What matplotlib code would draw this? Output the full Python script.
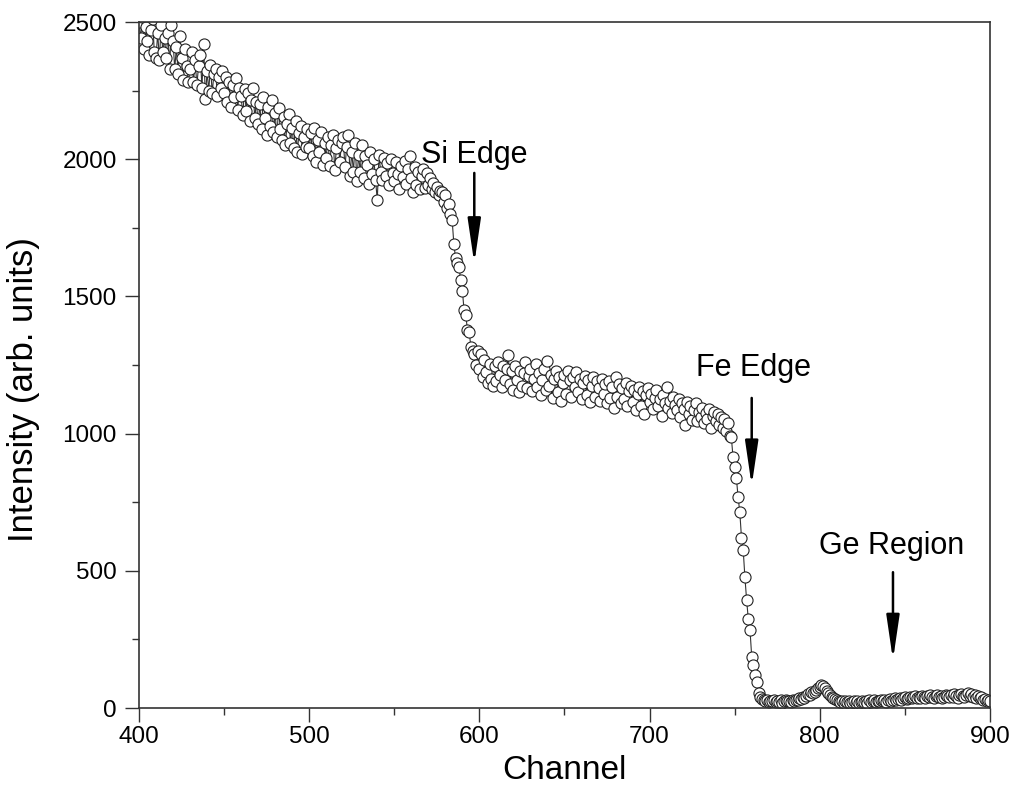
import numpy as np
import matplotlib
matplotlib.use("Agg")
import matplotlib.pyplot as plt

plt.rcParams['font.family'] = ['Liberation Sans', 'DejaVu Sans']

start_channel = 400
intensity = [
    # 400-579
    2500, 2440, 2520, 2400, 2480, 2430, 2380, 2470, 2510, 2390,
    2370, 2460, 2360, 2490, 2390, 2440, 2370, 2460, 2330, 2490,
    2430, 2330, 2410, 2310, 2450, 2370, 2290, 2400, 2340, 2280,
    2330, 2390, 2280, 2360, 2270, 2340, 2380, 2260, 2420, 2220,
    2320, 2250, 2345, 2240, 2310, 2330, 2230, 2300, 2260, 2320,
    2240, 2300, 2210, 2280, 2190, 2270, 2225, 2295, 2180, 2260,
    2230, 2160, 2255, 2175, 2240, 2140, 2215, 2260, 2150, 2210,
    2130, 2200, 2110, 2225, 2150, 2090, 2190, 2120, 2215, 2100,
    2170, 2080, 2185, 2110, 2070, 2155, 2050, 2130, 2165, 2060,
    2115, 2040, 2140, 2025, 2095, 2120, 2020, 2080, 2045, 2110,
    2040, 2095, 2010, 2115, 1990, 2070, 2025, 2100, 1980, 2060,
    2005, 2080, 1975, 2050, 2090, 1960, 2040, 2070, 1990, 2060,
    2080, 1970, 2045, 2090, 1940, 2025, 1955, 2060, 1920, 2015,
    1955, 2050, 1930, 2010, 1980, 1910, 2025, 1945, 2000, 1925,
    1850, 2015, 1955, 1925, 2005, 1940, 1985, 1905, 2000, 1950,
    1920, 1990, 1945, 1890, 1975, 1935, 1995, 1910, 1965, 2010,
    1930, 1880, 1970, 1905, 1955, 1890, 1940, 1965, 1895, 1950,
    1905, 1930, 1890, 1915, 1880, 1900, 1870, 1885, 1880, 1845,
    # 580-599 (Si edge)
    1870, 1822, 1835, 1800,
    1778, 1691, 1639, 1621, 1607, 1560, 1521, 1450, 1431, 1378, 1370, 1317, 1300,
    1290, 1250, 1300,
    # 600-739
    1235, 1290, 1205, 1270, 1225, 1185, 1255, 1200, 1175, 1245,
    1190, 1260, 1215, 1170, 1245, 1195, 1235, 1285, 1180, 1230,
    1160, 1245, 1195, 1150, 1230, 1175, 1220, 1260, 1165, 1210,
    1235, 1155, 1200, 1255, 1170, 1220, 1140, 1195, 1235, 1160,
    1265, 1175, 1215, 1130, 1200, 1230, 1150, 1205, 1120, 1185,
    1215, 1145, 1230, 1195, 1135, 1205, 1170, 1225, 1150, 1200,
    1125, 1185, 1210, 1140, 1195, 1115, 1175, 1205, 1135, 1190,
    1165, 1120, 1200, 1145, 1180, 1110, 1190, 1130, 1170, 1095,
    1205, 1135, 1180, 1110, 1165, 1125, 1185, 1100, 1155, 1175,
    1115, 1160, 1085, 1145, 1170, 1100, 1155, 1070, 1140, 1165,
    1115, 1145, 1090, 1130, 1160, 1100, 1125, 1065, 1140, 1110,
    1170, 1095, 1120, 1075, 1135, 1105, 1085, 1125, 1060, 1110,
    1090, 1030, 1115, 1070, 1100, 1050, 1085, 1110, 1045, 1080,
    1060, 1095, 1040, 1075, 1055, 1090, 1020, 1065, 1080, 1045,
    # 740-747
    1070, 1030, 1060, 1020, 1055, 1010, 1040, 990,
    # 748-765 (Fe edge)
    989, 916, 879, 838, 768, 714, 620, 576, 477, 394, 324, 284, 187, 157, 120, 96, 55, 40,
    # 766-900 (Ge region)
    32, 28, 25, 30, 22, 27, 24, 29, 21, 26,
    23, 28, 20, 25, 30, 24, 27, 22, 29, 26,
    31, 28, 35, 33, 40, 37, 45, 50, 48, 58,
    55, 60, 66, 72, 78, 84, 80, 72, 62, 55,
    48, 42, 36, 32, 28, 25, 22, 26, 20, 24,
    21, 25, 19, 23, 27, 20, 24, 18, 22, 26,
    21, 25, 20, 28, 23, 26, 30, 22, 27, 24,
    29, 25, 31, 23, 28, 33, 26, 30, 35, 28,
    32, 38, 30, 35, 40, 33, 37, 42, 35, 39,
    44, 36, 41, 38, 45, 40, 35, 43, 39, 46,
    41, 37, 44, 48, 40, 45, 38, 42, 47, 43,
    39, 46, 41, 50, 44, 38, 47, 52, 45, 41,
    48, 55, 44, 50, 42, 47, 38, 43, 35, 40,
    30, 34, 26, 29, 24,
]
channel = start_channel + np.arange(len(intensity))

labels = ["Si Edge", "Fe Edge", "Ge Region"]
label_x = [597, 761, 842]
label_y = [1985, 1210, 560]
arrow_x = [597, 760, 843]
arrow_top = [1950, 1130, 495]
arrow_tip = [1620, 810, 175]

fig = plt.figure(figsize=(10.16, 8.09), dpi=100)
ax = fig.add_axes([0.1368, 0.1248, 0.9744 - 0.1368, 0.9728 - 0.1248])

ax.plot(channel, intensity, color='#333333', lw=0.8, marker='o', ms=8,
        mfc='white', mec='#222222', mew=0.8)

ax.set_xlim(400, 900)
ax.set_ylim(0, 2500)
ax.set_xticks([400, 500, 600, 700, 800, 900])
ax.set_xticks([450, 550, 650, 750, 850], minor=True)
ax.set_yticks([0, 500, 1000, 1500, 2000, 2500])
ax.set_yticks([250, 750, 1250, 1750, 2250], minor=True)
ax.tick_params(axis='both', which='major', direction='out', length=10, width=1,
               labelsize=17.5, color='#333333')
ax.tick_params(axis='both', which='minor', direction='out', length=5, width=1,
               color='#333333')
ax.tick_params(axis='x', pad=3)
ax.tick_params(axis='y', pad=6)
for s in ax.spines.values():
    s.set_linewidth(1.2)
    s.set_color('#333333')

ax.set_xlabel("Channel", fontsize=24)
ax.set_ylabel("Intensity (arb. units)", fontsize=25)
ax.xaxis.set_label_coords(0.5, -0.068)
ax.yaxis.set_label_coords(-0.1163, 0.4636)

for t, lx, ly, axx, at, tip in zip(labels, label_x, label_y, arrow_x, arrow_top, arrow_tip):
    ax.text(lx, ly, t, fontsize=22, ha='center', va='baseline')
    ax.annotate("", xy=(axx, tip), xytext=(axx, at),
                arrowprops=dict(arrowstyle='-|>,head_length=1.5,head_width=0.22',
                                color='black', lw=1.8, mutation_scale=18,
                                shrinkA=0, shrinkB=0))

fig.savefig("out.png", dpi=100)
